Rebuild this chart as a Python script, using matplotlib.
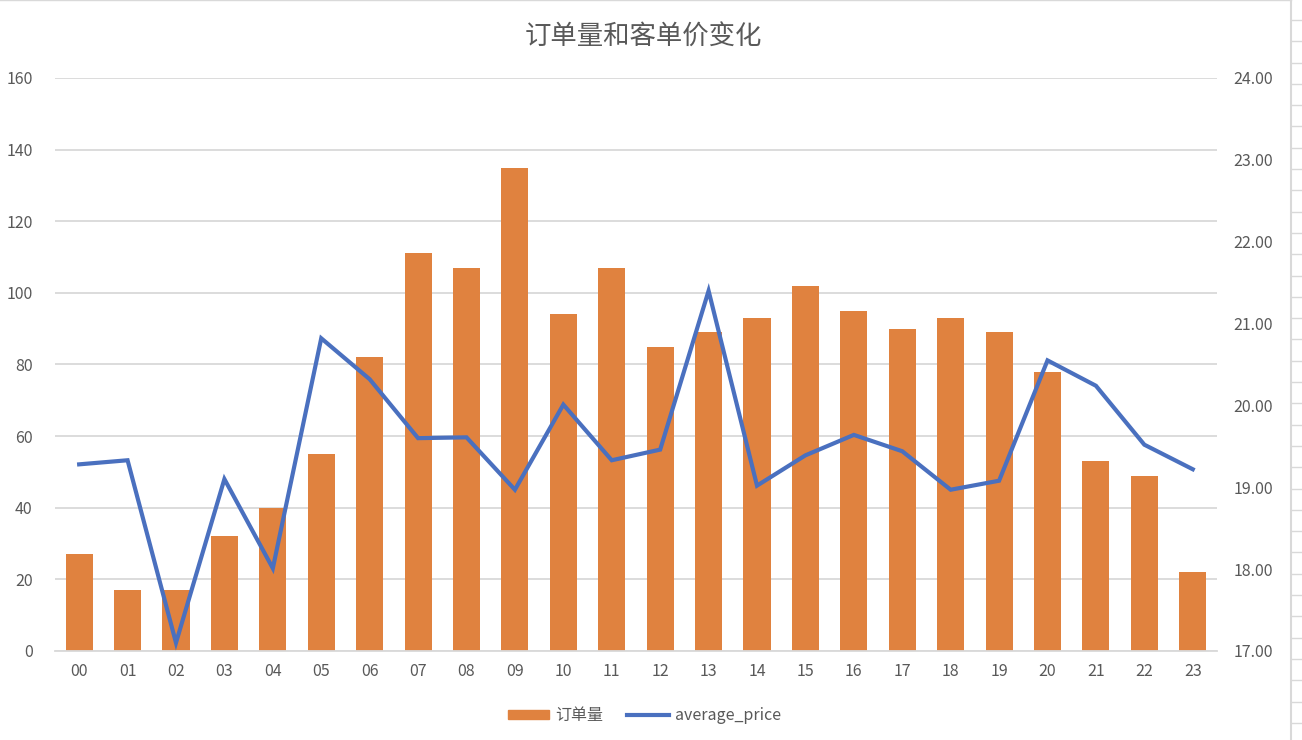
import matplotlib
matplotlib.use("Agg")
import matplotlib.pyplot as plt
from matplotlib.lines import Line2D
from matplotlib.ticker import FormatStrFormatter

plt.rcParams["font.family"] = ["Noto Sans CJK SC", "DejaVu Sans"]

# hour of day
hours = ["%02d" % h for h in range(24)]
# order counts per hour
orders = [27, 17, 17, 32, 40, 55, 82, 111, 107, 135, 94, 107,
          85, 89, 93, 102, 95, 90, 93, 89, 78, 53, 49, 22]
# average price per order
avg_price = [19.28, 19.33, 17.10, 19.10, 18.01, 20.82, 20.32, 19.60,
             19.61, 18.97, 20.01, 19.33, 19.46, 21.40, 19.02, 19.39,
             19.64, 19.44, 18.97, 19.08, 20.55, 20.24, 19.52, 19.22]

orange = "#E0823F"
blue = "#4A70BF"
grey = "#595959"

fig = plt.figure(figsize=(13.02, 7.40), dpi=100)
ax = fig.add_axes([0.0422, 0.1203, 0.8925, 0.7743])

x = list(range(len(hours)))
ax.bar(x, orders, width=0.56, color=orange, zorder=2)
ax.set_xlim(-0.5, 23.5)
ax.set_ylim(0, 160)
ax.set_yticks(range(0, 161, 20))
ax.set_xticks(x)
ax.set_xticklabels(hours)
ax.yaxis.grid(True, color="#D9D9D9", linewidth=1.3)
ax.set_axisbelow(True)
for s in ["top", "right", "left"]:
    ax.spines[s].set_visible(False)
ax.spines["bottom"].set_color("#D9D9D9")
ax.spines["bottom"].set_linewidth(1.3)
ax.tick_params(axis="y", length=0, pad=16, labelsize=11.5, labelcolor=grey)
ax.tick_params(axis="x", length=0, pad=9, labelsize=11.5, labelcolor=grey)

ax2 = ax.twinx()
ax2.plot(x, avg_price, color=blue, linewidth=3, solid_joinstyle="miter", zorder=3)
ax2.set_ylim(17, 24)
ax2.set_yticks(range(17, 25))
ax2.yaxis.set_major_formatter(FormatStrFormatter("%.2f"))
for s in ax2.spines.values():
    s.set_visible(False)
ax2.tick_params(axis="y", length=0, pad=12, labelsize=11.5, labelcolor=grey)

fig.text(0.494, 0.95, "订单量和客单价变化", ha="center", va="center",
         fontsize=19, color=grey)

handles = [plt.Rectangle((0, 0), 1, 1, color=orange),
           Line2D([0], [0], color=blue, linewidth=3)]
fig.legend(handles, ["订单量", "average_price"], loc="center",
           bbox_to_anchor=(0.495, 0.033), ncol=2, frameon=False,
           fontsize=11.5, labelcolor=grey, handlelength=2.6, handleheight=0.5,
           columnspacing=1.5, handletextpad=0.4)

# chart border and sheet rows at the right edge
fig.add_artist(Line2D([0, 0.9915], [0.9995, 0.9995], color="#D9D9D9", lw=1,
                      transform=fig.transFigure))
fig.add_artist(Line2D([0.9915, 0.9915], [0, 1], color="#D9D9D9", lw=1.5,
                      transform=fig.transFigure))
y = 740 - 20
while y > 0:
    fig.add_artist(Line2D([0.9925, 1], [y / 740, y / 740], color="#D9D9D9",
                          lw=1, transform=fig.transFigure))
    y -= 21.3

fig.savefig("out.png", dpi=100)
